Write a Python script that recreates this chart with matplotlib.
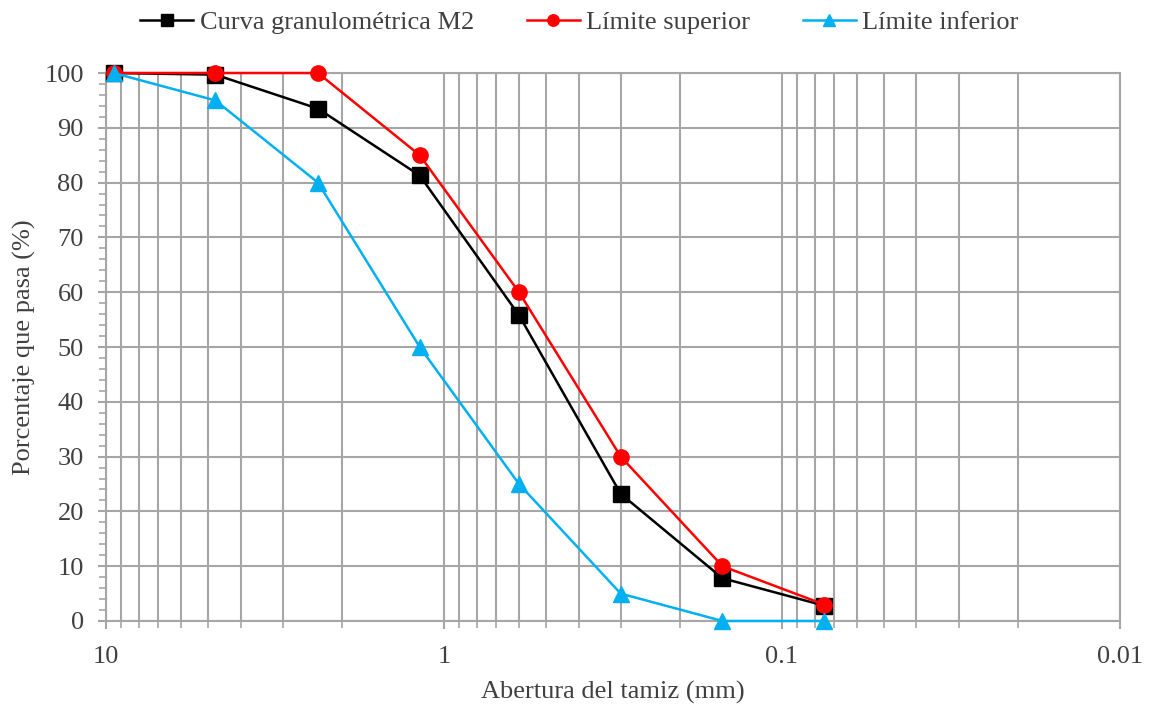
import matplotlib.pyplot as plt
from matplotlib.ticker import LogLocator, FixedLocator, FuncFormatter, MultipleLocator

plt.rcParams['font.family'] = ['Liberation Serif', 'DejaVu Serif']

# Sieve openings (mm) and percent passing
abertura = [9.5, 4.75, 2.36, 1.18, 0.6, 0.3, 0.15, 0.075]
curva_m2 = [100, 99.7, 93.5, 81.3, 55.8, 23.2, 7.8, 2.8]
lim_sup = [100, 100, 100, 85, 60, 30, 10, 3]
lim_inf = [100, 95, 80, 50, 25, 5, 0, 0]

texto = '#404040'
rejilla = '#A6A6A6'
fs = 19

fig = plt.figure(figsize=(11.5, 7.04), dpi=100)
ax = fig.add_axes([0.0922, 0.1179, 0.8817, 0.7784])

ax.plot(abertura, curva_m2, color='black', lw=1.8, marker='s', ms=11,
        label='Curva granulométrica M2', zorder=3, clip_on=False)
ax.plot(abertura, lim_sup, color='#FF0000', lw=1.8, marker='o', ms=11,
        label='Límite superior', zorder=4, clip_on=False)
ax.plot(abertura, lim_inf, color='#00B0F0', lw=1.8, marker='^', ms=11,
        label='Límite inferior', zorder=5, clip_on=False)

ax.set_xscale('log')
ax.set_xlim(10, 0.01)
ax.set_ylim(0, 100)

ax.xaxis.set_major_locator(FixedLocator([10, 1, 0.1, 0.01]))
ax.xaxis.set_major_formatter(FuncFormatter(lambda v, p: f'{v:g}'))
ax.xaxis.set_minor_locator(LogLocator(base=10, subs=range(2, 10)))
ax.xaxis.set_minor_formatter(FuncFormatter(lambda v, p: ''))
ax.yaxis.set_major_locator(MultipleLocator(10))
ax.yaxis.set_minor_locator(MultipleLocator(2))

ax.grid(True, which='major', color=rejilla, lw=1.5)
ax.grid(True, which='minor', axis='x', color=rejilla, lw=1.5)
ax.set_axisbelow(True)

for s in ax.spines.values():
    s.set_color(rejilla)
    s.set_linewidth(1.5)

ax.tick_params(which='both', colors=rejilla, labelcolor=texto, labelsize=fs)
ax.tick_params(which='major', length=6, width=1.5)
ax.tick_params(which='minor', length=5, width=1.2)
ax.tick_params(axis='y', which='major', pad=10)
ax.tick_params(axis='x', which='major', pad=12)

ax.set_xlabel('Abertura del tamiz (mm)', fontsize=fs, color=texto, labelpad=9)
ax.set_ylabel('Porcentaje que pasa (%)', fontsize=fs, color=texto, labelpad=6)

ax.legend(loc='center', bbox_to_anchor=(0.467, 1.093), ncol=3, frameon=False,
          fontsize=fs, labelcolor=texto, handlelength=2.0, handletextpad=0.25,
          columnspacing=2.0, markerscale=0.75, borderpad=0)

fig.savefig('out.png', dpi=100)
